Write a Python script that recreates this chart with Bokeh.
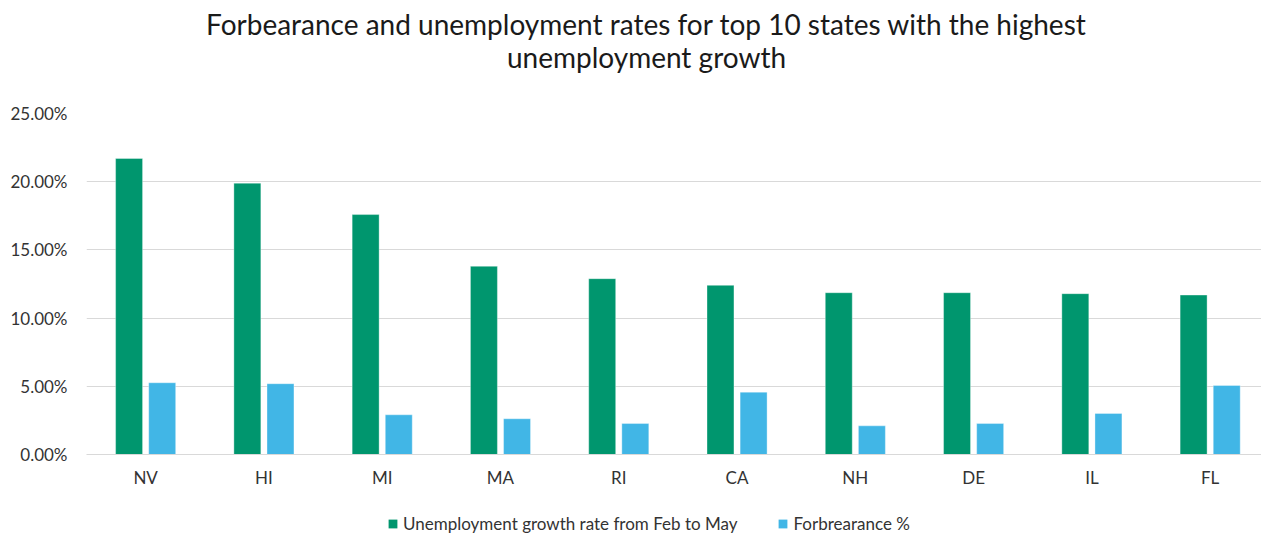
from bokeh.plotting import figure
from bokeh.layouts import column
from bokeh.models import (Range1d, FixedTicker, NumeralTickFormatter, Legend,
                          LegendItem, Label, ColumnDataSource)
from bokeh.transform import dodge
from bokeh.embed import file_html
from bokeh.resources import INLINE

# ---- data ----
states = ["NV", "HI", "MI", "MA", "RI", "CA", "NH", "DE", "IL", "FL"]
unemployment_growth = [0.2170, 0.1989, 0.1759, 0.1380, 0.1289,
                       0.1240, 0.1186, 0.1186, 0.1179, 0.1169]
forbearance = [0.0526, 0.0519, 0.0291, 0.0262, 0.0227,
               0.0457, 0.0210, 0.0227, 0.0301, 0.0506]
y_ticks = [0.0, 0.05, 0.10, 0.15, 0.20, 0.25]
series_names = ["Unemployment growth rate from Feb to May", "Forbrearance %"]
title_lines = ["Forbearance and unemployment rates for top 10 states with the highest",
               "unemployment growth"]

FONT = "Lato"
GREEN = "#00966E"
BLUE = "#41B6E6"
W = 1261


def bare(height):
    f = figure(width=W, height=height, x_range=Range1d(0, W), y_range=Range1d(0, height),
               output_backend="svg", toolbar_location=None,
               x_axis_location=None, y_axis_location=None,
               min_border=0, min_border_left=0, min_border_right=0,
               min_border_top=0, min_border_bottom=0)
    f.outline_line_color = None
    f.xgrid.visible = False
    f.ygrid.visible = False
    f.background_fill_color = "white"
    f.border_fill_color = "white"
    return f


# ---- header with the two-line title (frames are aligned at x=86) ----
header = bare(100)
for txt, base in zip(title_lines, [77, 44]):
    header.add_layout(Label(x=560, y=base, x_units="screen", y_units="screen",
                            text=txt, text_align="center", text_baseline="alphabetic",
                            text_font=FONT, text_font_size="28px",
                            text_color="#1a1a1a"))

# ---- main chart ----
idx = list(range(len(states)))
source = ColumnDataSource(dict(x=idx, state=states,
                               unemp=unemployment_growth, forb=forbearance))

p = figure(width=W, height=404,
           x_range=Range1d(-0.5, 9.434), y_range=Range1d(0, 0.25),
           output_backend="svg", toolbar_location=None,
           min_border_left=86, min_border_right=0,
           min_border_top=13, min_border_bottom=50)
p.outline_line_color = None
p.background_fill_color = "white"
p.border_fill_color = "white"

r1 = p.vbar(x=dodge("x", -0.14), top="unemp", width=0.228, source=source,
            fill_color=GREEN, line_color="white", line_alpha=0.35, line_width=1)
r2 = p.vbar(x=dodge("x", 0.14), top="forb", width=0.228, source=source,
            fill_color=BLUE, line_color="white", line_alpha=0.35, line_width=1)

xa = p.xaxis[0]
xa.ticker = FixedTicker(ticks=idx)
xa.major_label_overrides = {i: s for i, s in zip(idx, states)}
xa.major_tick_line_color = None
xa.minor_tick_line_color = None
xa.axis_line_color = "#d9d9d9"
xa.major_label_standoff = 6
xa.major_label_text_font = FONT
xa.major_label_text_font_size = "17px"
xa.major_label_text_color = "#333333"

ya = p.yaxis[0]
ya.ticker = FixedTicker(ticks=y_ticks)
ya.formatter = NumeralTickFormatter(format="0.00%")
ya.axis_line_color = None
ya.major_tick_line_color = None
ya.minor_tick_line_color = None
ya.major_label_standoff = 13
ya.major_label_text_font = FONT
ya.major_label_text_font_size = "17px"
ya.major_label_text_color = "#333333"

p.xgrid.grid_line_color = None
p.ygrid.grid_line_color = "#d9d9d9"
p.ygrid.grid_line_width = 1

# ---- legend strip (zero-size proxy glyphs only carry the legend styles) ----
lf = bare(30)
g1 = lf.vbar(x=[0], top=[0], width=0, fill_color=GREEN, line_color=None)
g2 = lf.vbar(x=[0], top=[0], width=0, fill_color=BLUE, line_color=None)
legend = Legend(items=[LegendItem(label=series_names[0], renderers=[g1]),
                       LegendItem(label=series_names[1], renderers=[g2])],
                location=(301, 0), orientation="horizontal",
                glyph_width=11, glyph_height=11, label_standoff=5, spacing=40,
                padding=0, margin=0, border_line_color=None,
                background_fill_alpha=0,
                label_text_font=FONT, label_text_font_size="17px",
                label_text_color="#333333")
lf.add_layout(legend)

layout = column(header, p, lf, spacing=0)
open("out.html", "w").write(file_html(layout, INLINE))
